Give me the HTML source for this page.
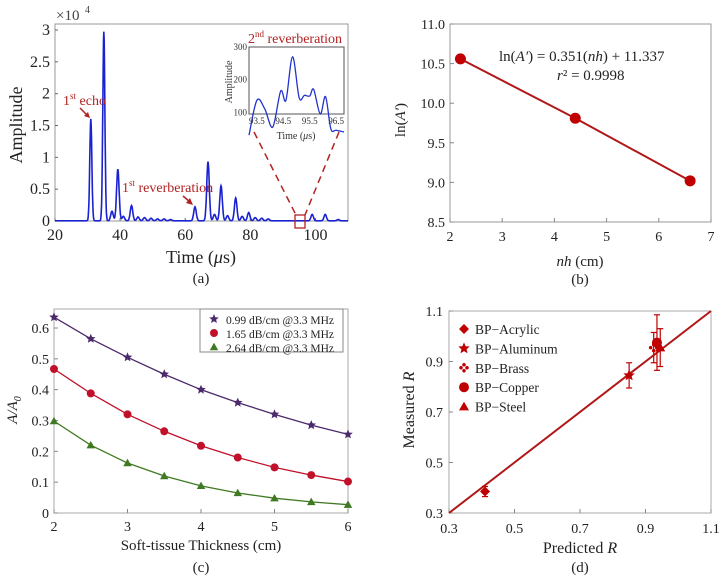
<!DOCTYPE html>
<html><head><meta charset="utf-8">
<style>
html,body{margin:0;padding:0;background:#fff;}
svg{display:block;font-family:"Liberation Serif",serif;}
</style></head>
<body>
<svg id="fig" width="724" height="578" viewBox="0 0 724 578"></svg>
<script>
// ---------- Panel (a) data ----------
const peakTimes = [31,35,37.5,39.3,41,43.5,45.5,47.5,49.5,51.5,53.5,55.5,63,67,69,71,73,75.5,77.5,79.5,81.5,83.5,85.5,99,103,107];
const peakAmps  = [1.6,2.97,0.15,0.81,0.07,0.24,0.06,0.05,0.04,0.03,0.03,0.02,0.22,0.93,0.1,0.55,0.08,0.36,0.07,0.13,0.05,0.04,0.03,0.1,0.1,0.02];
const aXTicks = [20,40,60,80,100];
const aYTicks = [0,0.5,1,1.5,2,2.5,3];
const aYLabels = ["0","0.5","1","1.5","2","2.5","3"];
const insetTimes = [93.2,93.5,93.8,94.1,94.4,94.6,94.85,95.1,95.3,95.5,95.65,95.9,96.1,96.3,96.5,96.8];
const insetAmps  = [30,137,110,55,165,137,270,145,152,150,170,95,148,50,45,40];
const insetXTicks = [93.5,94.5,95.5,96.5];
const insetYTicks = [100,200,300];
// ---------- Panel (b) data ----------
const bX = [2.2,4.4,6.6];
const bY = [10.56,9.81,9.02];
const bXTicks = [2,3,4,5,6,7];
const bYTicks = [8.5,9.0,9.5,10.0,10.5,11.0];
// ---------- Panel (c) data ----------
const cX = [2,2.5,3,3.5,4,4.5,5,5.5,6];
const cS1 = [0.635,0.565,0.505,0.45,0.40,0.358,0.32,0.285,0.255];
const cS2 = [0.467,0.388,0.32,0.265,0.218,0.18,0.148,0.123,0.102];
const cS3 = [0.298,0.22,0.162,0.12,0.088,0.065,0.048,0.036,0.027];
const cNames = ["0.99 dB/cm @3.3 MHz","1.65 dB/cm @3.3 MHz","2.64 dB/cm @3.3 MHz"];
const cXTicks = [2,3,4,5,6];
const cYTicks = [0,0.1,0.2,0.3,0.4,0.5,0.6];
// ---------- Panel (d) data ----------
const dNames = ["BP\u2212Acrylic","BP\u2212Aluminum","BP\u2212Brass","BP\u2212Copper","BP\u2212Steel"];
const dPred = [0.41,0.85,0.925,0.935,0.945];
const dMeas = [0.385,0.845,0.955,0.975,0.955];
const dErr  = [0.02,0.05,0.06,0.11,0.075];
const dTicks = [0.3,0.5,0.7,0.9,1.1];

const NS="http://www.w3.org/2000/svg";
const svg=document.getElementById('fig');
function mk(tag,attrs,parent,text){const e=document.createElementNS(NS,tag);for(const k in attrs)e.setAttribute(k,attrs[k]);if(text!==undefined)e.textContent=text;(parent||svg).appendChild(e);return e;}
function lin(d0,d1,r0,r1){return v=>r0+(v-d0)/(d1-d0)*(r1-r0);}

// ================= Panel (a) =================
const ga=mk('g',{});
 
const ax=lin(20,110,55,348), ay=lin(0,3,221,30);
const boxA=mk('rect',{x:55,y:24,width:293,height:197,fill:'none',stroke:'#999','stroke-width':1},ga);
 
aXTicks.forEach(t=>{const x=ax(t);mk('line',{x1:x,y1:221,x2:x,y2:218,stroke:'#666'},ga);
 const tl=mk('text',{x:x,y:240,'font-size':16,'text-anchor':'middle',fill:'#222'},ga,String(t));
  });
aYTicks.forEach((t,i)=>{const y=ay(t);mk('line',{x1:55,y1:y,x2:58,y2:y,stroke:'#666'},ga);
 const tl=mk('text',{x:50,y:y+5,'font-size':16,'text-anchor':'end',fill:'#222'},ga,aYLabels[i]);
  });
let t10=mk('text',{x:56,y:20,'font-size':15,fill:'#444'},ga,'\u00d710');
 
mk('text',{x:85,y:13,'font-size':10,fill:'#444'},ga,'4');
// signal trace
let pts=[];
for(let t=20;t<=110;t+=0.1){let v=0.003;peakTimes.forEach((p,i)=>{const w=(i<2?0.45:0.55);v+=peakAmps[i]*Math.exp(-Math.pow((t-p)/w,2));});pts.push(ax(t).toFixed(1)+','+ay(v).toFixed(1));}
const trace=mk('polyline',{points:pts.join(' '),fill:'none',stroke:'#1a22d0','stroke-width':1.6},ga);
 
let yl=mk('text',{x:0,y:0,'font-size':18,'text-anchor':'middle',fill:'#222',transform:'translate(22,125) rotate(-90)'},ga,'Amplitude');
 
let xl=mk('text',{x:201,y:263,'font-size':18,'text-anchor':'middle',fill:'#222'},ga);
xl.innerHTML='Time (<tspan font-style="italic">\u03bc</tspan>s)';
 
let ca=mk('text',{x:201,y:283,'font-size':15,'text-anchor':'middle',fill:'#222'},ga,'(a)');
 
// annotations
let e1=mk('text',{x:63,y:105,'font-size':14,fill:'#b22222'},ga);
e1.innerHTML='1<tspan font-size="9" dy="-6">st</tspan><tspan dy="6"> echo</tspan>';
 
mk('line',{x1:80,y1:108,x2:88,y2:116,stroke:'#b22222','stroke-width':1.5},ga);
mk('polygon',{points:'90,118 84,116 88,112',fill:'#b22222'},ga);
let r1=mk('text',{x:122,y:192,'font-size':14,fill:'#b22222'},ga);
r1.innerHTML='1<tspan font-size="9" dy="-6">st</tspan><tspan dy="6"> reverberation</tspan>';
 
mk('line',{x1:183,y1:196,x2:190,y2:202,stroke:'#b22222','stroke-width':1.5},ga);
mk('polygon',{points:'193,205 186,203 190,198',fill:'#b22222'},ga);
let r2=mk('text',{x:295,y:43,'font-size':14,'text-anchor':'middle',fill:'#b22222'},ga);
r2.innerHTML='2<tspan font-size="9" dy="-6">nd</tspan><tspan dy="6"> reverberation</tspan>';
 
let zr=mk('rect',{x:295,y:215,width:10,height:13,fill:'none',stroke:'#b22222','stroke-width':1.3},ga);
 
mk('line',{x1:254,y1:132,x2:296,y2:215,stroke:'#b22222','stroke-width':1.5,'stroke-dasharray':'7,5'},ga);
mk('line',{x1:339,y1:132,x2:305,y2:215,stroke:'#b22222','stroke-width':1.5,'stroke-dasharray':'7,5'},ga);
// inset
const ix=lin(93.2,96.8,249,344), iy=lin(0,300,145,47);
let ib=mk('rect',{x:249,y:47,width:95,height:67,fill:'#fff',stroke:'#555','stroke-width':1},ga);
 
insetXTicks.forEach(t=>{mk('text',{x:ix(t),y:124,'font-size':9,'text-anchor':'middle',fill:'#333'},ga,String(t));});
insetYTicks.forEach(t=>{mk('text',{x:247,y:iy(t)+3,'font-size':9,'text-anchor':'end',fill:'#333'},ga,String(t));});
let ipts=insetTimes.map((t,i)=>[ix(t),iy(insetAmps[i])]);
let d='M'+ipts[0][0]+','+ipts[0][1];
for(let i=0;i<ipts.length-1;i++){const p0=ipts[Math.max(0,i-1)],p1=ipts[i],p2=ipts[i+1],p3=ipts[Math.min(ipts.length-1,i+2)];
 d+=' C'+(p1[0]+(p2[0]-p0[0])/6)+','+(p1[1]+(p2[1]-p0[1])/6)+' '+(p2[0]-(p3[0]-p1[0])/6)+','+(p2[1]-(p3[1]-p1[1])/6)+' '+p2[0]+','+p2[1];}
let it=mk('path',{d:d,fill:'none',stroke:'#2233cc','stroke-width':1.3},ga);
 
let iyl=mk('text',{'font-size':10,'text-anchor':'middle',fill:'#333',transform:'translate(232,82) rotate(-90)'},ga,'Amplitude');
 
let ixl=mk('text',{x:296,y:139,'font-size':10,'text-anchor':'middle',fill:'#333'},ga);
ixl.innerHTML='Time (<tspan font-style="italic">\u03bc</tspan>s)';
 

// ================= Panel (b) =================
const gb=mk('g',{});
 
const bx=lin(2,7,450,711), by=lin(8.5,11,222,24);
let bb=mk('rect',{x:450,y:24,width:261,height:198,fill:'none',stroke:'#999'},gb);
 
bXTicks.forEach(t=>{const x=bx(t);mk('line',{x1:x,y1:222,x2:x,y2:218,stroke:'#888'},gb);
 const tl=mk('text',{x:x,y:241,'font-size':14,'text-anchor':'middle',fill:'#222'},gb,String(t));
  });
bYTicks.forEach(t=>{const y=by(t);mk('line',{x1:450,y1:y,x2:454,y2:y,stroke:'#888'},gb);
 const tl=mk('text',{x:445,y:y+5,'font-size':14,'text-anchor':'end',fill:'#222'},gb,t.toFixed(1));
  });
let bl=mk('polyline',{points:bX.map((x,i)=>bx(x)+','+by(bY[i])).join(' '),fill:'none',stroke:'#b01818','stroke-width':2},gb);
 
bX.forEach((x,i)=>{const c=mk('circle',{cx:bx(x),cy:by(bY[i]),r:5.5,fill:'#c00000'},gb);
  });
let eq=mk('text',{x:499,y:61,'font-size':15,fill:'#222'},gb);
eq.innerHTML='ln(<tspan font-style="italic">A\u2032</tspan>) =    0.351(<tspan font-style="italic">nh</tspan>) + 11.337';
 
let r2t=mk('text',{x:557,y:80,'font-size':15,fill:'#222'},gb);
r2t.innerHTML='<tspan font-style="italic">r</tspan>\u00b2 = 0.9998';
 
let byl=mk('text',{'font-size':15,'text-anchor':'middle',fill:'#222',transform:'translate(405,120) rotate(-90)'},gb);
byl.innerHTML='ln(<tspan font-style="italic">A\u2032</tspan>)';
 
let bxl=mk('text',{x:580,y:266,'font-size':15,'text-anchor':'middle',fill:'#222'},gb);
bxl.innerHTML='<tspan font-style="italic">nh</tspan> (cm)';
 
let cb=mk('text',{x:580,y:284,'font-size':15,'text-anchor':'middle',fill:'#222'},gb,'(b)');
 

// ================= Panel (c) =================
const gc=mk('g',{});
 
const cx=lin(2,6,54,348), cy=lin(0,0.6,513,328);
let cbx=mk('rect',{x:54,y:309,width:294,height:204,fill:'none',stroke:'#aaa'},gc);
 
cXTicks.forEach(t=>{const x=cx(t);mk('line',{x1:x,y1:513,x2:x,y2:509,stroke:'#888'},gc);
 const tl=mk('text',{x:x,y:531,'font-size':14,'text-anchor':'middle',fill:'#222'},gc,String(t));
  });
cYTicks.forEach(t=>{const y=cy(t);mk('line',{x1:54,y1:y,x2:58,y2:y,stroke:'#888'},gc);
 const tl=mk('text',{x:49,y:y+5,'font-size':14,'text-anchor':'end',fill:'#222'},gc,String(t));
  });
const cColors=['#4b2a6b','#c0102a','#3f7a22'];
function star(x,y,r,fill,p){let s='';for(let i=0;i<10;i++){const a=-Math.PI/2+i*Math.PI/5,rr=i%2?r*0.45:r;s+=(x+rr*Math.cos(a)).toFixed(1)+','+(y+rr*Math.sin(a)).toFixed(1)+' ';}return mk('polygon',{points:s,fill:fill},p);}
function tri(x,y,r,fill,p){return mk('polygon',{points:`${x},${y-r} ${x+r},${y+r*0.75} ${x-r},${y+r*0.75}`,fill:fill},p);}
function marker(k,x,y,r,fill,p){if(k===0)return star(x,y,r,fill,p);if(k===1)return mk('circle',{cx:x,cy:y,r:r*0.8,fill:fill},p);return tri(x,y,r*0.85,fill,p);}
[cS1,cS2,cS3].forEach((s,k)=>{
 const l=mk('polyline',{points:cX.map((x,i)=>cx(x)+','+cy(s[i])).join(' '),fill:'none',stroke:cColors[k],'stroke-width':1.3},gc);
  
 cX.forEach((x,i)=>{const m=marker(k,cx(x),cy(s[i]),5,cColors[k],gc);
   });
});
let lg=mk('rect',{x:200,y:309,width:143,height:43,fill:'#fff',stroke:'#888'},gc);
 
cNames.forEach((n,k)=>{const y=320+k*14;marker(k,214,y-1,5,cColors[k],gc);
 const t=mk('text',{x:226,y:y+4,'font-size':11.5,fill:'#222'},gc,n);
  });
let cyl=mk('text',{'font-size':15,'text-anchor':'middle',fill:'#222','font-style':'italic',transform:'translate(17,410) rotate(-90)'},gc);
cyl.innerHTML='A/A<tspan font-size="10" dy="4">0</tspan>';
 
let cxl=mk('text',{x:201,y:550,'font-size':15,'text-anchor':'middle',fill:'#222'},gc,'Soft-tissue Thickness (cm)');
 
let cc=mk('text',{x:201,y:572,'font-size':15,'text-anchor':'middle',fill:'#222'},gc,'(c)');
 

// ================= Panel (d) =================
const gd=mk('g',{});
 
const dx=lin(0.3,1.1,449,711), dy=lin(0.3,1.1,513,311);
let dbx=mk('rect',{x:449,y:311,width:262,height:202,fill:'none',stroke:'#aaa'},gd);
 
dTicks.forEach(t=>{
 mk('line',{x1:dx(t),y1:513,x2:dx(t),y2:509,stroke:'#888'},gd);
 const a=mk('text',{x:dx(t),y:533,'font-size':14,'text-anchor':'middle',fill:'#222'},gd,t.toFixed(1));
  
 mk('line',{x1:449,y1:dy(t),x2:453,y2:dy(t),stroke:'#888'},gd);
 const b=mk('text',{x:443,y:dy(t)+5,'font-size':14,'text-anchor':'end',fill:'#222'},gd,t.toFixed(1));
  });
let ref=mk('line',{x1:dx(0.3),y1:dy(0.3),x2:dx(1.1),y2:dy(1.1),stroke:'#b01818','stroke-width':2},gd);
 
const dCol='#c00000';
function dMarker(k,x,y,r,p){
 if(k===0)return mk('polygon',{points:`${x},${y-r} ${x+r},${y} ${x},${y+r} ${x-r},${y}`,fill:dCol},p);
 if(k===1)return star(x,y,r*1.2,dCol,p);
 if(k===2){const g=mk('g',{},p);[[0,-1],[1,0],[0,1],[-1,0]].forEach(o=>mk('circle',{cx:x+o[0]*r*0.6,cy:y+o[1]*r*0.6,r:r*0.35,fill:dCol},g));return g;}
 if(k===3)return mk('circle',{cx:x,cy:y,r:r,fill:dCol},p);
 return tri(x,y,r,dCol,p);}
dPred.forEach((px,k)=>{
 const x=dx(px);
 const eb=mk('g',{},gd);
  
 const y1=dy(dMeas[k]+dErr[k]),y2=dy(dMeas[k]-dErr[k]);
 mk('line',{x1:x,y1:y1,x2:x,y2:y2,stroke:dCol,'stroke-width':1.2},eb);
 mk('line',{x1:x-3,y1:y1,x2:x+3,y2:y1,stroke:dCol,'stroke-width':1.2},eb);
 mk('line',{x1:x-3,y1:y2,x2:x+3,y2:y2,stroke:dCol,'stroke-width':1.2},eb);
 const m=dMarker(k,x,dy(dMeas[k]),5,gd);
  
});
dNames.forEach((n,k)=>{const y=329+k*19.4;dMarker(k,464,y,5,gd);
 const t=mk('text',{x:475,y:y+5,'font-size':13.5,fill:'#222'},gd,n);
  });
let dyl=mk('text',{'font-size':16,'text-anchor':'middle',fill:'#222',transform:'translate(414,410) rotate(-90)'},gd);
dyl.innerHTML='Measured <tspan font-style="italic">R</tspan>';
 
let dxl=mk('text',{x:580,y:553,'font-size':16,'text-anchor':'middle',fill:'#222'},gd);
dxl.innerHTML='Predicted <tspan font-style="italic">R</tspan>';
 
let cd=mk('text',{x:580,y:572,'font-size':15,'text-anchor':'middle',fill:'#222'},gd,'(d)');
 
</script>
</body></html>
